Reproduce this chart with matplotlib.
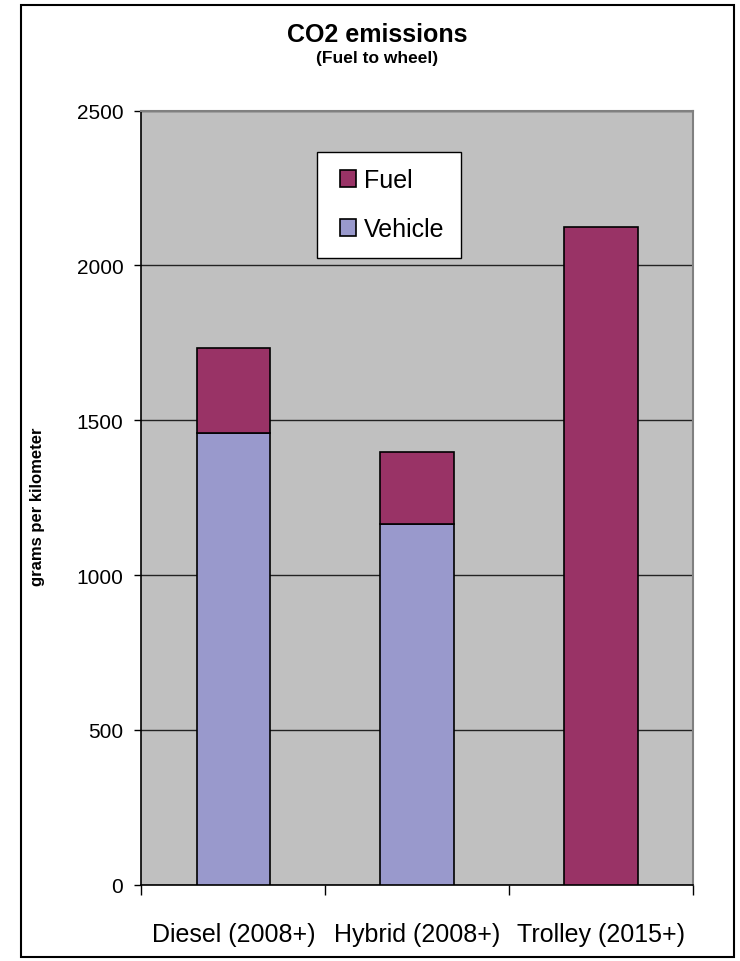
import numpy as np
import matplotlib.pyplot as plt
from matplotlib.patches import Rectangle
from matplotlib.legend_handler import HandlerPatch

# ================================
# 数据
# ================================
categories = ["Diesel (2008+)", "Hybrid (2008+)", "Trolley (2015+)"]
vehicle = [1460, 1165, 0]     # 车辆部分 [g/km]
fuel = [273, 233, 2125]       # 燃料部分 [g/km]
yticks = [0, 500, 1000, 1500, 2000, 2500]

fuel_color = "#993366"
vehicle_color = "#9999CC"

plt.rcParams['font.family'] = ['Liberation Sans', 'DejaVu Sans']

fig = plt.figure(figsize=(7.4, 9.62), dpi=100)
ax = fig.add_axes([0.191, 0.0793, 0.7455, 0.8046])

x = np.arange(len(categories))
ax.bar(x, vehicle, width=0.4, color=vehicle_color, edgecolor="black", linewidth=1.2,
       zorder=3)
ax.bar(x, fuel, width=0.4, bottom=vehicle, color=fuel_color, edgecolor="black",
       linewidth=1.2, zorder=3)

# 坐标轴范围与背景
ax.set_xlim(-0.5, 2.5)
ax.set_ylim(0, 2500)
ax.set_facecolor("#C0C0C0")
ax.yaxis.grid(True, color="#222222", linewidth=1.0, zorder=1)
ax.set_axisbelow(True)

ax.spines["top"].set_color("#808080")
ax.spines["right"].set_color("#808080")
ax.spines["top"].set_linewidth(1.5)
ax.spines["right"].set_linewidth(1.5)
ax.spines["left"].set_linewidth(1.2)
ax.spines["bottom"].set_linewidth(1.2)

# y 轴刻度
ax.set_yticks(yticks)
ax.set_yticklabels([str(v) for v in yticks], fontsize=15)
ax.tick_params(axis="y", direction="out", length=5, width=1, pad=8)

# x 轴：刻度线在类别之间，标签在类别中心
ax.set_xticks([-0.5, 0.5, 1.5, 2.5])
ax.set_xticklabels([])
ax.tick_params(axis="x", which="major", direction="out", length=7, width=1)
ax.set_xticks(x, minor=True)
ax.set_xticklabels(categories, minor=True, fontsize=18)
ax.tick_params(axis="x", which="minor", length=0, pad=27)

# 标题
fig.text(377 / 740, 1 - 35 / 962, "CO2 emissions", ha="center", va="center",
         fontsize=18, fontweight="bold")
fig.text(377 / 740, 1 - 59 / 962, "(Fuel to wheel)", ha="center", va="center",
         fontsize=12.5, fontweight="bold")
fig.text(38 / 740, 1 - 507 / 962, "grams per kilometer", ha="center", va="center",
         rotation=90, fontsize=12, fontweight="bold")


# 图例方块靠右放置，左侧留白
def square_patch(legend, orig_handle, xdescent, ydescent, width, height, fontsize):
    return Rectangle((-xdescent + width - height, -ydescent), height, height)


handles = [Rectangle((0, 0), 1, 1, facecolor=fuel_color, edgecolor="black", linewidth=1.2),
           Rectangle((0, 0), 1, 1, facecolor=vehicle_color, edgecolor="black", linewidth=1.2)]
leg = ax.legend(handles, ["Fuel", "Vehicle"], loc="upper left",
                bbox_to_anchor=(0.318, 0.947), fontsize=18, frameon=True,
                fancybox=False, framealpha=1, edgecolor="black",
                handlelength=0.9, handleheight=0.62, handletextpad=0.34,
                labelspacing=1.0, borderpad=0.66, borderaxespad=0,
                handler_map={Rectangle: HandlerPatch(patch_func=square_patch)})
leg.get_frame().set_linewidth(1.0)
leg.set_zorder(5)

# 外框
fig.patches.append(Rectangle((21 / 740, 1 - 958 / 962), 713 / 740, 952 / 962,
                             transform=fig.transFigure, fill=False,
                             edgecolor="black", linewidth=1.5))

plt.savefig("out.png", dpi=100)
